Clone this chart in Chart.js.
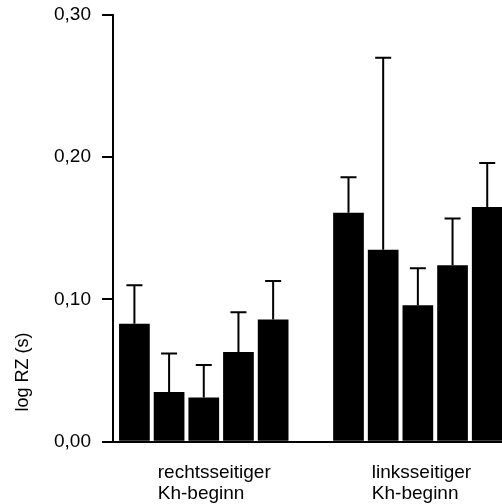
<!DOCTYPE html>
<html>
<head>
<meta charset="utf-8">
<script src="https://cdn.jsdelivr.net/npm/chart.js@4"></script>
<style>
  html, body { margin: 0; padding: 0; background: #fff; overflow: hidden; }
  canvas { display: block; }
</style>
</head>
<body>
<canvas id="myChart" width="502" height="504"></canvas>
<script>
// data
const categories = [['rechtsseitiger', 'Kh-beginn'], ['linksseitiger', 'Kh-beginn']]
const rechtsMean = [0.083, 0.035, 0.031, 0.063, 0.086]
const rechtsErr = [0.027, 0.027, 0.023, 0.028, 0.027]
const linksMean = [0.161, 0.135, 0.096, 0.124, 0.165]
const linksErr = [0.025, 0.135, 0.026, 0.033, 0.031]
const yTicks = [0, 0.1, 0.2, 0.3]
const yTitle = 'log RZ (s)'

const FONT = 'Liberation Sans'

// one dataset per bar position, one point per group
const datasets = rechtsMean.map((_, k) => ({
  label: String(k + 1),
  data: [
    { x: 0, y: rechtsMean[k] },
    { x: 1, y: linksMean[k] }
  ],
  errors: [rechtsErr[k], linksErr[k]],
  backgroundColor: '#000',
  borderWidth: 0,
  categoryPercentage: 0.81,
  barPercentage: 0.885
}))

// upward error bars with caps
const errorBars = {
  id: 'errorBars',
  afterDatasetsDraw(chart) {
    const { ctx } = chart
    const yScale = chart.scales.y
    ctx.save()
    ctx.strokeStyle = '#000'
    ctx.lineWidth = 2
    chart.data.datasets.forEach((ds, i) => {
      const meta = chart.getDatasetMeta(i)
      meta.data.forEach((bar, j) => {
        const top = yScale.getPixelForValue(ds.data[j].y + ds.errors[j])
        ctx.beginPath()
        ctx.moveTo(bar.x, bar.y)
        ctx.lineTo(bar.x, top)
        ctx.moveTo(bar.x - 8, top)
        ctx.lineTo(bar.x + 8, top)
        ctx.stroke()
      })
    })
    ctx.restore()
  }
}

// y title sits low beside the axis
const yTitlePlugin = {
  id: 'yTitle',
  afterDraw(chart) {
    const { ctx } = chart
    ctx.save()
    ctx.translate(23, 372)
    ctx.rotate(-Math.PI / 2)
    ctx.font = '18px "' + FONT + '"'
    ctx.fillStyle = '#000'
    ctx.textAlign = 'center'
    ctx.textBaseline = 'middle'
    ctx.fillText(yTitle, 0, 0)
    ctx.restore()
  }
}

new Chart(document.getElementById('myChart'), {
  type: 'bar',
  data: { datasets },
  plugins: [errorBars, yTitlePlugin],
  options: {
    responsive: false,
    animation: false,
    events: [],
    layout: { padding: { top: 15, left: 0, right: 0, bottom: 0 } },
    plugins: {
      legend: { display: false },
      tooltip: { enabled: false }
    },
    scales: {
      x: {
        type: 'linear',
        offset: false,
        min: -0.424,
        max: 1.393,
        grid: { display: false, offset: false },
        border: { display: true, color: '#000', width: 2 },
        afterBuildTicks: (scale) => {
          scale.ticks = categories.map((_, i) => ({ value: i }))
        },
        afterFit: (scale) => {
          scale.height = 62.3
          scale.paddingLeft = 0
          scale.paddingRight = 0
        },
        ticks: {
          color: '#000',
          font: { family: FONT, size: 19, lineHeight: 1.12 },
          align: 'start',
          labelOffset: -46,
          padding: 12,
          maxRotation: 0,
          autoSkip: false,
          callback: (value) => categories[value]
        }
      },
      y: {
        min: 0,
        max: 0.3,
        grid: {
          drawOnChartArea: false,
          drawTicks: true,
          tickLength: 11,
          color: '#000',
          lineWidth: 2
        },
        border: { display: true, color: '#000', width: 2 },
        afterBuildTicks: (scale) => {
          scale.ticks = yTicks.map((v) => ({ value: v }))
        },
        afterFit: (scale) => {
          scale.width = 113
          scale.paddingTop = 0
          scale.paddingBottom = 0
        },
        ticks: {
          color: '#000',
          font: { family: FONT, size: 19 },
          padding: 11,
          callback: (value) => value.toFixed(2).replace('.', ',')
        }
      }
    }
  }
})
</script>
</body>
</html>
